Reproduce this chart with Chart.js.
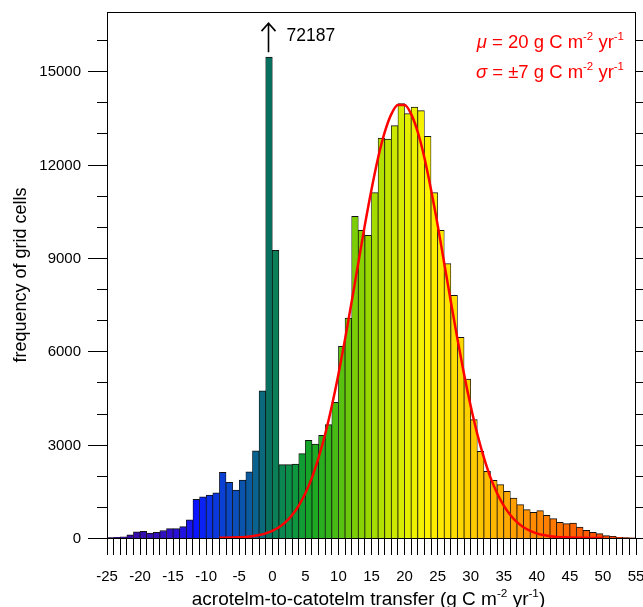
<!DOCTYPE html>
<html>
<head>
<meta charset="utf-8">
<script src="https://cdn.jsdelivr.net/npm/chart.js@4.4.0/dist/chart.umd.min.js"></script>
<style>
  html, body { margin: 0; padding: 0; background: #fff; }
  canvas { display: block; }
</style>
</head>
<body>
<canvas id="histChart" width="643" height="607"></canvas>
<script>
// left edge of each 1-unit bin (g C m-2 yr-1)
const binLeft = [
  -25, -24, -23, -22, -21, -20, -19, -18, -17, -16,
  -15, -14, -13, -12, -11, -10, -9, -8, -7, -6,
  -5, -4, -3, -2, -1, 0, 1, 2, 3, 4,
  5, 6, 7, 8, 9, 10, 11, 12, 13, 14,
  15, 16, 17, 18, 19, 20, 21, 22, 23, 24,
  25, 26, 27, 28, 29, 30, 31, 32, 33, 34,
  35, 36, 37, 38, 39, 40, 41, 42, 43, 44,
  45, 46, 47, 48, 49, 50, 51, 52, 53, 54
];

// frequency of grid cells per bin (the -1..0 bin is drawn cut off, true count in spikeCount)
const counts = [
  10, 20, 40, 100, 195, 215, 160, 185, 240, 300,
  300, 365, 580, 1240, 1320, 1380, 1450, 2110, 1790, 1540,
  1860, 2130, 2800, 4730, 15450, 9240, 2356, 2356, 2378, 2710,
  3138, 3020, 3299, 3641, 4359, 6158, 7069, 10335, 9885, 9725,
  11096, 12852, 12820, 13248, 13955, 13634, 13848, 13730, 12906, 11096,
  9885, 8814, 7797, 6447, 5109, 3802, 2785, 2142, 1853, 1714,
  1499, 1285, 1071, 910, 825, 878, 728, 621, 503, 460,
  482, 353, 246, 182, 139, 75, 54, 21, 10, 5
];
const spikeBin = -1;
const spikeCount = '72187';

// fitted normal curve
const curveX = [
  -8, -7, -6, -5, -4, -3, -2, -1, 0, 1, 2, 3, 4, 5, 6, 7, 8, 9, 10,
  11, 12, 13, 14, 15, 16, 17, 18, 19, 20, 21, 22, 23, 24, 25, 26, 27, 28, 29,
  30, 31, 32, 33, 34, 35, 36, 37, 38, 39, 40, 41, 42, 43, 44, 45, 46, 47, 48, 49, 50
];
const curveY = [
  5, 8, 13, 21, 36, 59, 94, 150, 230, 345, 510, 740, 1040, 1440, 1940, 2580, 3340, 4240, 5260,
  6390, 7590, 8830, 10060, 11200, 12220, 13040, 13620, 13910, 13910, 13620, 13040, 12220, 11200, 10060, 8830, 7590, 6390, 5260,
  4240, 3340, 2580, 1940, 1440, 1040, 740, 510, 345, 230, 150, 94, 59, 36, 21, 13, 8, 5, 3, 2, 1
];

// labelled y ticks
const yTickLabels = [0, 3000, 6000, 9000, 12000, 15000];

const muText = '20';
const sigmaText = '\u00B17';

// colour map along the bins
const colourStops = [
  [-25, '#3c0c90'], [-16, '#3010c8'], [-13, '#1814ee'], [-12, '#0a14ff'],
  [-10, '#0a30e8'], [-7, '#0a48c8'], [-4, '#0a5aa0'], [-2, '#0a6a7c'],
  [-1, '#08705f'], [0, '#0a7f58'], [2, '#0a8f48'], [5, '#14a428'],
  [8, '#34b418'], [11, '#6cc80c'], [14, '#98d800'], [17, '#c0e400'],
  [20, '#e4f000'], [23, '#fff200'], [26, '#ffe400'], [29, '#ffd000'],
  [33, '#ffb800'], [37, '#ff9800'], [41, '#ff8000'], [45, '#ff6400'],
  [50, '#ff4800'], [54, '#ff3000']
];

function hexToRgb(h) {
  const n = parseInt(h.slice(1), 16);
  return [(n >> 16) & 255, (n >> 8) & 255, n & 255];
}
function binColour(b) {
  for (let i = 0; i < colourStops.length - 1; i++) {
    const [b0, c0] = colourStops[i];
    const [b1, c1] = colourStops[i + 1];
    if (b >= b0 && b <= b1) {
      const t = (b - b0) / (b1 - b0);
      const p = hexToRgb(c0), q = hexToRgb(c1);
      return 'rgb(' + p.map((v, j) => Math.round(v + (q[j] - v) * t)).join(',') + ')';
    }
  }
  return colourStops[colourStops.length - 1][1];
}

const FONT = "'Liberation Sans', Arial, Helvetica, sans-serif";

// text with superscripts / italic pieces
function richWidth(ctx, parts, size) {
  let w = 0;
  parts.forEach(p => {
    ctx.font = (p.i ? 'italic ' : '') + (p.s ? size * 0.62 : size) + 'px ' + FONT;
    w += ctx.measureText(p.t).width;
  });
  return w;
}
function drawRich(ctx, parts, x, y, size, align) {
  let w = richWidth(ctx, parts, size);
  let cx = align === 'right' ? x - w : align === 'center' ? x - w / 2 : x;
  ctx.textAlign = 'left';
  ctx.textBaseline = 'alphabetic';
  parts.forEach(p => {
    ctx.font = (p.i ? 'italic ' : '') + (p.s ? size * 0.62 : size) + 'px ' + FONT;
    ctx.fillText(p.t, cx, p.s ? y - size * 0.42 : y);
    cx += ctx.measureText(p.t).width;
  });
}

const decorations = {
  id: 'decorations',
  afterDraw(chart) {
    const { ctx, chartArea: a, scales: { x, y } } = chart;
    ctx.save();
    ctx.strokeStyle = '#000';
    ctx.lineWidth = 1;

    // frame
    ctx.strokeRect(a.left + 0.5, a.top + 0.5, a.right - a.left - 1, a.bottom - a.top);

    // y ticks on both sides, major every 3000
    for (let v = 0; v <= y.max; v += 1000) {
      const py = Math.round(y.getPixelForValue(v)) + 0.5;
      const len = v % 3000 === 0 ? 19 : 10;
      ctx.beginPath();
      ctx.moveTo(a.left - len, py); ctx.lineTo(a.left, py);
      ctx.moveTo(a.right, py); ctx.lineTo(a.right + len, py);
      ctx.stroke();
    }
    ctx.fillStyle = '#000';
    ctx.font = '15px ' + FONT;
    ctx.textAlign = 'right';
    ctx.textBaseline = 'middle';
    yTickLabels.forEach(v => ctx.fillText(String(v), a.left - 26, y.getPixelForValue(v) + 1));

    // arrow over the cut-off bin
    const ax = Math.round(x.getPixelForValue(spikeBin + 0.5)) - 0.5;
    const ay = y.getPixelForValue(counts[binLeft.indexOf(spikeBin)]) - 5;
    ctx.lineWidth = 1.6;
    ctx.beginPath();
    ctx.moveTo(ax, ay); ctx.lineTo(ax, ay - 29);
    ctx.moveTo(ax - 7, ay - 21); ctx.lineTo(ax, ay - 29); ctx.lineTo(ax + 7, ay - 21);
    ctx.stroke();
    ctx.font = '17.5px ' + FONT;
    ctx.textAlign = 'left';
    ctx.fillText(spikeCount, ax + 18, ay - 16);

    // fit statistics
    ctx.fillStyle = '#ff0000';
    const unit = [
      { t: ' g C m' }, { t: '-2', s: true }, { t: ' yr' }, { t: '-1', s: true }
    ];
    drawRich(ctx, [{ t: '\u03BC', i: true }, { t: ' = ' + muText }].concat(unit), a.right - 12, 48, 18.5, 'right');
    drawRich(ctx, [{ t: '\u03C3', i: true }, { t: ' = ' + sigmaText }].concat(unit), a.right - 12, 78, 18.5, 'right');

    // x axis title
    ctx.fillStyle = '#000';
    drawRich(ctx, [
      { t: 'acrotelm-to-catotelm transfer (g C m' }, { t: '-2', s: true },
      { t: ' yr' }, { t: '-1', s: true }, { t: ')' }
    ], (a.left + a.right) / 2 - 3, 605, 19, 'center');
    ctx.restore();
  }
};

const histChart = new Chart(document.getElementById('histChart'), {
  type: 'bar',
  data: {
    datasets: [{
      type: 'line',
      data: curveX.map((v, i) => ({ x: v, y: curveY[i] })),
      borderColor: '#ff0000',
      borderWidth: 2.5,
      pointRadius: 0,
      cubicInterpolationMode: 'monotone',
      order: 0
    }, {
      type: 'bar',
      data: binLeft.map((b, i) => ({ x: b + 0.5, y: counts[i] })),
      backgroundColor: binLeft.map(binColour),
      borderColor: '#111',
      borderWidth: { top: 1, left: 0.75, right: 0.75, bottom: 0 },
      borderSkipped: 'bottom',
      barPercentage: 1,
      categoryPercentage: 1,
      grouped: false,
      order: 1
    }]
  },
  options: {
    responsive: false,
    animation: false,
    events: [],
    layout: { padding: { top: 12, right: 7, left: 0, bottom: 0 } },
    plugins: {
      legend: { display: false },
      tooltip: { enabled: false }
    },
    scales: {
      x: {
        type: 'linear',
        min: -25,
        max: 55,
        offset: false,
        afterFit: s => { s.height = 69; s.paddingLeft = 0; s.paddingRight = 0; },
        ticks: {
          stepSize: 1,
          autoSkip: false,
          maxRotation: 0,
          padding: 13,
          color: '#000',
          font: { family: FONT, size: 15 },
          callback: v => Math.round(v) % 5 === 0 ? String(Math.round(v)) : ''
        },
        grid: { drawOnChartArea: false, offset: false, tickLength: 17, color: '#000', lineWidth: 1 },
        border: { display: false }
      },
      y: {
        min: 0,
        max: 16900,
        afterFit: s => { s.width = 107; },
        ticks: { display: false },
        grid: { display: false },
        border: { display: false },
        title: {
          display: true,
          text: 'frequency of grid cells',
          color: '#000',
          font: { family: FONT, size: 18 },
          padding: { top: 10, bottom: 0 }
        }
      }
    }
  },
  plugins: [decorations]
});
</script>
</body>
</html>
